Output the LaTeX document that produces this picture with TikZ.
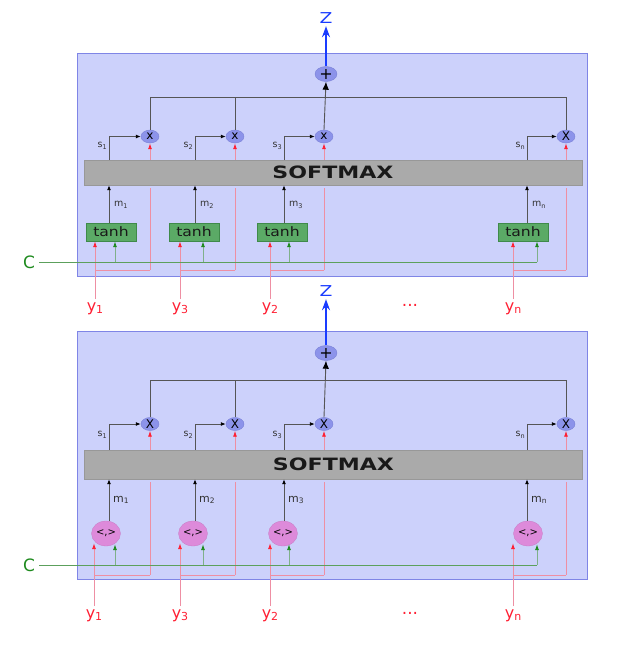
\documentclass[tikz,border=0pt]{standalone}
\usepackage{fontspec}
\setmainfont{DejaVu Sans}
\newfontfamily\wideA[FakeStretch=1.3]{DejaVu Sans}
\newfontfamily\wideB[FakeStretch=1.2]{DejaVu Sans}
\newfontfamily\wideC[FakeStretch=1.25]{DejaVu Sans}
\usetikzlibrary{arrows.meta,shapes.geometric,calc}
\newcommand\myfs[1]{\fontsize{#1}{#1}\selectfont}
\definecolor{panelfill}{HTML}{CCD1FB}
\definecolor{panelline}{HTML}{7F85E6}
\definecolor{opfill}{HTML}{8C93EA}
\definecolor{opline}{HTML}{7A81D6}
\definecolor{smfill}{HTML}{AAAAAA}
\definecolor{smline}{HTML}{989898}
\definecolor{tanhfill}{HTML}{5BAA66}
\definecolor{tanhline}{HTML}{3F8A4A}
\definecolor{dotfill}{HTML}{DD8ADA}
\definecolor{ylabc}{HTML}{FF1F33}
\definecolor{tipred}{HTML}{FF1F33}
\definecolor{pinkc}{HTML}{EE8FA3}
\definecolor{zblue}{HTML}{1A3CFF}
\definecolor{cgreen}{HTML}{1E8A1E}
\definecolor{gline}{HTML}{5CA05C}
\definecolor{glinel}{HTML}{7FB08A}
\definecolor{grayl}{HTML}{555555}
\definecolor{labc}{HTML}{333333}
\begin{document}
\begin{tikzpicture}[x=1pt,y=-1pt,
  panel/.style={draw=panelline,fill=panelfill,line width=0.9pt},
  op/.style={ellipse,draw=opline,fill=opfill,inner sep=0pt,minimum width=18pt,minimum height=13pt,font=\myfs{12}},
  plusop/.style={ellipse,draw=opline,fill=opfill,inner sep=0pt,minimum width=22pt,minimum height=15pt,font=\myfs{16}},
  smbox/.style={draw=smline,fill=smfill,inner sep=0pt,minimum width=498pt,font=\wideA\bfseries\myfs{17},text=black!90},
  tanhbox/.style={draw=tanhline,fill=tanhfill,inner sep=0pt,minimum width=50pt,minimum height=18pt,font=\wideB\myfs{13},text=black!90},
  dotop/.style={ellipse,fill=dotfill,draw=dotfill!90!black,line width=0.3pt,inner sep=0pt,minimum width=29pt,minimum height=25pt,font=\myfs{10}},
  ylab/.style={anchor=base,inner sep=3pt,text=ylabc,font=\myfs{16}},
  zlab/.style={anchor=base,inner sep=3pt,text=zblue,font=\wideC\myfs{15}},
  clab/.style={inner sep=4pt,text=cgreen,font=\myfs{17}},
  slab/.style={inner sep=0pt,text=labc,font=\myfs{9.5}},
  dotslab/.style={anchor=base,inner sep=0pt,text=ylabc,font=\myfs{17}},
  gl/.style={draw=grayl,line width=0.9pt},
  garrow/.style={gl,-{Latex[length=5pt,width=4pt,color=black]}},
  garrowbig/.style={gl,-{Latex[length=8pt,width=6.5pt,color=black]}},
  zarrow/.style={draw=zblue,line width=1.4pt,-{Stealth[length=11pt,width=8pt]}},
  pk/.style={draw=pinkc,line width=0.9pt},
  pkarrow/.style={pk,-{Latex[length=6pt,width=4pt,color=tipred]}},
  gr/.style={draw=gline,line width=0.9pt},
  grarrow/.style={draw=glinel,line width=0.9pt,-{Latex[length=6pt,width=4pt,color=cgreen]}}]
\useasboundingbox (0,0) rectangle (639,649);
% ================= top panel =================
\draw[panel] (77,53) rectangle (587,276);
\node[smbox,minimum height=25pt] (tsm) at (333,172.5) {SOFTMAX};
\node[plusop] (tp) at (326,74) {+};
\node[zlab] (tz) at (326,23) {Z};
\coordinate (tbus) at (0,97);
\node[clab] (tc) at (29,262) {C};
\foreach \i/\sx/\mx/\rx/\gx/\tx/\sub/\ys/\ox in
 {1/109/150/95/115/111/1/1/x, 2/195/235/180/203/194/2/3/x, 3/284/324/270/289/282/3/2/x, 4/527/566/513/537/523/n/n/X}{
  \coordinate (tcx\i) at (\sx,0);
  \node[op] (tm\i) at (\mx,136.5) {\ox};
  \node[tanhbox] (tt\i) at (\tx,232) {tanh};
  \node[ylab] (ty\i) at (\rx,311) {y\raisebox{-2pt}{\myfs{11}\ys}};
  \coordinate (tb\i) at (\mx,270);
  \coordinate (tg\i) at (\gx,262);
  \node[slab,anchor=east] at (\sx-2,146) {s\raisebox{-1.5pt}{\myfs{6.5}\sub}};
  \node[slab,anchor=west] at (\sx+5,205) {m\raisebox{-1.5pt}{\myfs{6.5}\sub}};
  \draw[garrow] (tsm.north -| tcx\i) |- (tm\i.west);
  \draw[garrow] (tt\i.north -| tcx\i) -- (tsm.south -| tcx\i);
  \draw[pkarrow] (tm\i.south |- tsm.north) -- (tm\i.south);
  \draw[pk] (tb\i) -- ($(tb\i |- tsm.south)+(0,3)$);
  \draw[pkarrow] (ty\i.north) -- (ty\i.north |- tt\i.south);
  \draw[pk] (ty\i.north |- tb\i) -- (tb\i);
  \draw[grarrow] (tg\i) -- (tg\i |- tt\i.south);
}
\draw[gl] (tm1.north) -- (tm1.north |- tbus) -| (tm4.north);
\draw[gl] (tm2.north) -- (tm2.north |- tbus);
\draw[garrowbig] (tm3.north) -- (tp.south);
\draw[zarrow] (tp.north) -- (tz.south);
\draw[gr] (tc.east) -- (tg4);
\node[dotslab] (tdots) at (410,306) {...};
% ================= bottom panel =================
\draw[panel] (77,331) rectangle (587,579);
\node[smbox,minimum height=29pt] (bsm) at (333.5,464.5) {SOFTMAX};
\node[plusop] (bp) at (326,353) {+};
\node[zlab] (bz) at (326,296) {Z};
\coordinate (bbus) at (0,380);
\node[clab] (bc) at (29,565) {C};
\foreach \i/\sx/\mx/\rx/\gx/\ex/\sub/\ys in
 {1/109/150/94/115/106/1/1, 2/195/235/180/203/193/2/3, 3/284/324/270/289/283/3/2, 4/527/566/513/537/528/n/n}{
  \coordinate (bcx\i) at (\sx,0);
  \node[op] (bm\i) at (\mx,424) {X};
  \node[dotop] (bd\i) at (\ex,533.5) {<,>};
  \node[ylab] (by\i) at (\rx,618) {y\raisebox{-2pt}{\myfs{11}\ys}};
  \coordinate (bb\i) at (\mx,575);
  \coordinate (bg\i) at (\gx,565);
  \node[slab,anchor=east] at (\sx-2,435) {s\raisebox{-1.5pt}{\myfs{6.5}\sub}};
  \node[slab,anchor=west,font=\myfs{11}] at (\sx+4,500) {m\raisebox{-1.5pt}{\myfs{7.5}\sub}};
  \draw[garrow] (bsm.north -| bcx\i) |- (bm\i.west);
  \draw[garrow] (bd\i.north -| bcx\i) -- (bsm.south -| bcx\i);
  \draw[pkarrow] (bm\i.south |- bsm.north) -- (bm\i.south);
  \draw[pk] (bb\i) -- ($(bb\i |- bsm.south)+(0,3)$);
  \draw[pkarrow] (by\i.north) -- ($(by\i.north |- bd\i.south)+(0,-3)$);
  \draw[pk] (by\i.north |- bb\i) -- (bb\i);
  \draw[grarrow] (bg\i) -- ($(bg\i |- bd\i.south)+(0,-2)$);
}
\draw[gl] (bm1.north) -- (bm1.north |- bbus) -| (bm4.north);
\draw[gl] (bm2.north) -- (bm2.north |- bbus);
\draw[garrowbig] (bm3.north) -- (bp.south);
\draw[zarrow] (bp.north) -- (bz.south);
\draw[gr] (bc.east) -- (bg4);
\node[dotslab] (bdots) at (410,614) {...};
\end{tikzpicture}
\end{document}
